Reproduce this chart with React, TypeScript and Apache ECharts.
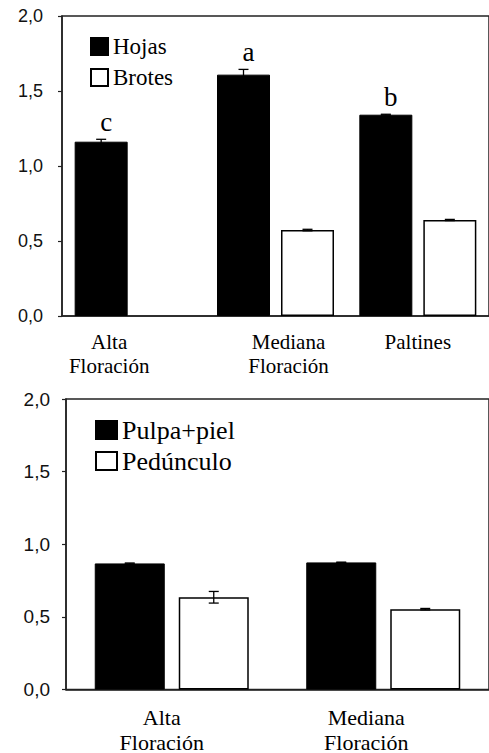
import React, { useEffect, useRef } from 'react';
import * as echarts from 'echarts';

// ---------- data ----------
const topCategories = ['Alta\nFloración', 'Mediana\nFloración', 'Paltines'];
const hojasValues = [1.162, 1.609, 1.342];
const hojasErrors = [0.016, 0.035, 0.003];
const brotesValues: (number | null)[] = [null, 0.573, 0.64];
const brotesErrors: (number | null)[] = [null, 0.005, 0.004];
const hojasLetters = ['c', 'a', 'b'];

const bottomCategories = ['Alta\nFloración', 'Mediana\nFloración'];
const pulpaValues = [0.868, 0.875];
const pulpaErrors = [0.003, 0.002];
const pedunculoValues = [0.635, 0.553];
const pedunculoErrors = [0.04, 0.005];

const yMin = 0;
const yMax = 2;
const yStep = 0.5;

// ---------- style ----------
const SERIF = "'Liberation Serif', 'Times New Roman', serif";
const SANS = "'Liberation Sans', Arial, sans-serif";
const AX = '#222';
const topBarW = 53;
const topGap = 11;
const botBarW = 70;
const botGap = 14;
const topLabelShift = [-24, 13, 0];
const bottomLabelShift = [-10, -17];

const fmtY = (v: number) => v.toFixed(1).replace('.', ',');

function richFor(shifts: number[], fontSize: number, lineHeight: number) {
  const rich: any = {};
  shifts.forEach((s, i) => {
    rich['r' + i] = {
      fontFamily: SERIF,
      fontSize,
      lineHeight,
      color: '#000',
      padding: [0, s < 0 ? -2 * s : 0, 0, s > 0 ? 2 * s : 0],
    };
  });
  return rich;
}

function labelFormatter() {
  return (value: string, idx: number) =>
    String(value)
      .split('\n')
      .map((l) => `{r${idx}|${l}}`)
      .join('\n');
}

function errorSeries(
  name: string,
  xi: number,
  values: (number | null)[],
  errors: (number | null)[],
  side: number,
  barW: number,
  gap: number,
  letters?: string[]
) {
  const data: any[] = [];
  const letterList: string[] = [];
  values.forEach((v, i) => {
    if (v == null) return;
    data.push([i, v, errors[i] ?? 0]);
    letterList.push(letters ? letters[i] : '');
  });
  return {
    type: 'custom',
    name,
    xAxisIndex: xi,
    yAxisIndex: xi,
    z: 5,
    encode: { x: 0, y: 1 },
    data,
    renderItem: (params: any, api: any) => {
      const i = api.value(0);
      const v = api.value(1);
      const e = api.value(2);
      const off = (side * (barW + gap)) / 2;
      const top = api.coord([i, v + e]);
      const bot = api.coord([i, v - e]);
      const x = top[0] + off;
      const cap = 5;
      const st = { stroke: '#000', lineWidth: 1.3 };
      const children: any[] = [
        { type: 'line', shape: { x1: x, y1: top[1], x2: x, y2: bot[1] }, style: st },
        { type: 'line', shape: { x1: x - cap, y1: top[1], x2: x + cap, y2: top[1] }, style: st },
        { type: 'line', shape: { x1: x - cap, y1: bot[1], x2: x + cap, y2: bot[1] }, style: st },
      ];
      const letter = letterList[params.dataIndex];
      if (letter) {
        children.push({
          type: 'text',
          x: x + 5,
          y: top[1] - 4,
          style: {
            text: letter,
            fontFamily: SERIF,
            fontSize: 27,
            fill: '#000',
            align: 'center',
            verticalAlign: 'bottom',
          },
        });
      }
      return { type: 'group', children };
    },
  };
}

const yAxisBase = (gi: number, fontSize: number, margin: number) => ({
  type: 'value',
  gridIndex: gi,
  min: yMin,
  max: yMax,
  interval: yStep,
  splitLine: { show: false },
  axisLine: { show: true, lineStyle: { color: AX, width: 1.5 } },
  axisTick: { show: true, length: 4, lineStyle: { color: AX, width: 1.2 } },
  axisLabel: {
    formatter: fmtY,
    fontFamily: SANS,
    fontSize,
    color: '#111',
    margin,
  },
});

export default function App() {
  const ref = useRef<HTMLDivElement>(null);
  useEffect(() => {
    if (!ref.current) return;
    const chart = echarts.init(ref.current, undefined, { renderer: 'svg' });
    const option: any = {
      animation: false,
      backgroundColor: '#fff',
      grid: [
        { left: 62, top: 16, width: 429, height: 300, show: true, borderColor: AX, borderWidth: 1.5 },
        { left: 66, top: 399, width: 431, height: 292, show: true, borderColor: AX, borderWidth: 1.5 },
      ],
      legend: [
        {
          data: ['Hojas', 'Brotes'],
          orient: 'vertical',
          left: 90,
          top: 35,
          padding: 0,
          icon: 'rect',
          itemWidth: 17,
          itemHeight: 17,
          itemGap: 8,
          selectedMode: false,
          textStyle: { fontFamily: SERIF, fontSize: 23, color: '#000', lineHeight: 22 },
        },
        {
          data: ['Pulpa+piel', 'Pedúnculo'],
          orient: 'vertical',
          left: 95,
          top: 417,
          padding: 0,
          icon: 'rect',
          itemWidth: 21,
          itemHeight: 18,
          itemGap: 5,
          selectedMode: false,
          textStyle: { fontFamily: SERIF, fontSize: 26, color: '#000', lineHeight: 24 },
        },
      ],
      xAxis: [
        {
          type: 'category',
          gridIndex: 0,
          data: topCategories,
          axisLine: { show: true, lineStyle: { color: AX, width: 1.5 } },
          axisTick: { show: false },
          axisLabel: {
            margin: 14,
            interval: 0,
            fontFamily: SERIF,
            formatter: labelFormatter(),
            rich: richFor(topLabelShift, 21, 24),
          },
        },
        {
          type: 'category',
          gridIndex: 1,
          data: bottomCategories,
          axisLine: { show: true, lineStyle: { color: AX, width: 1.5 } },
          axisTick: { show: false },
          axisLabel: {
            margin: 15,
            interval: 0,
            fontFamily: SERIF,
            formatter: labelFormatter(),
            rich: richFor(bottomLabelShift, 22, 25),
          },
        },
      ],
      yAxis: [yAxisBase(0, 18, 19), yAxisBase(1, 19, 16)],
      series: [
        {
          type: 'bar',
          name: 'Hojas',
          xAxisIndex: 0,
          yAxisIndex: 0,
          barWidth: topBarW,
          data: hojasValues,
          itemStyle: { color: '#000', borderColor: '#000', borderWidth: 1 },
        },
        {
          type: 'bar',
          name: 'Brotes',
          xAxisIndex: 0,
          yAxisIndex: 0,
          barWidth: topBarW,
          barGap: `${(topGap / topBarW) * 100}%`,
          data: brotesValues.map((v) => (v == null ? '-' : v)),
          itemStyle: { color: '#fff', borderColor: '#000', borderWidth: 1.5 },
        },
        {
          type: 'bar',
          name: 'Pulpa+piel',
          xAxisIndex: 1,
          yAxisIndex: 1,
          barWidth: botBarW,
          data: pulpaValues,
          itemStyle: { color: '#000', borderColor: '#000', borderWidth: 1 },
        },
        {
          type: 'bar',
          name: 'Pedúnculo',
          xAxisIndex: 1,
          yAxisIndex: 1,
          barWidth: botBarW,
          barGap: `${(botGap / botBarW) * 100}%`,
          data: pedunculoValues,
          itemStyle: { color: '#fff', borderColor: '#000', borderWidth: 1.5 },
        },
        errorSeries('errHojas', 0, hojasValues, hojasErrors, -1, topBarW, topGap, hojasLetters),
        errorSeries('errBrotes', 0, brotesValues, brotesErrors, 1, topBarW, topGap),
        errorSeries('errPulpa', 1, pulpaValues, pulpaErrors, -1, botBarW, botGap),
        errorSeries('errPed', 1, pedunculoValues, pedunculoErrors, 1, botBarW, botGap),
      ],
    };
    chart.setOption(option);
    return () => chart.dispose();
  }, []);
  return (
    <div
      ref={ref}
      style={{ position: 'absolute', left: 0, top: 0, width: 489, height: 753, background: '#fff' }}
    />
  );
}
